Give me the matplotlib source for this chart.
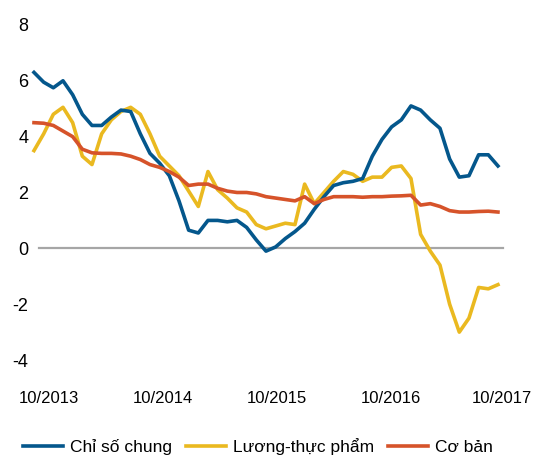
import numpy as np
import matplotlib
matplotlib.use("Agg")
import matplotlib.pyplot as plt

plt.rcParams['font.family'] = ['Liberation Sans', 'DejaVu Sans']

# monthly values, 10/2013 -> 10/2017
chung = [6.3, 5.95, 5.75, 6.0, 5.5, 4.8, 4.4, 4.4, 4.7, 4.95,
         4.9, 4.1, 3.4, 3.05, 2.6, 1.7, 0.65, 0.55, 1.0, 1.0,
         0.95, 1.0, 0.75, 0.3, -0.1, 0.05, 0.35, 0.6, 0.9, 1.4,
         1.85, 2.25, 2.35, 2.4, 2.5, 3.3, 3.9, 4.35, 4.6, 5.1,
         4.95, 4.6, 4.3, 3.2, 2.55, 2.6, 3.35, 3.35, 2.95]
luong_thuc = [3.5, 4.1, 4.8, 5.05, 4.5, 3.3, 3.0, 4.1, 4.6, 4.9,
              5.05, 4.8, 4.1, 3.3, 2.95, 2.6, 2.05, 1.5, 2.75, 2.1,
              1.8, 1.45, 1.3, 0.85, 0.7, 0.8, 0.9, 0.85, 2.3, 1.6,
              2.0, 2.4, 2.75, 2.65, 2.4, 2.55, 2.55, 2.9, 2.95, 2.5,
              0.5, -0.1, -0.6, -2.0, -3.0, -2.5, -1.4, -1.45, -1.3]
co_ban = [4.5, 4.48, 4.4, 4.2, 4.0, 3.55, 3.42, 3.4, 3.4, 3.38,
          3.3, 3.18, 3.0, 2.9, 2.75, 2.55, 2.25, 2.3, 2.3, 2.15,
          2.05, 2.0, 2.0, 1.95, 1.85, 1.8, 1.75, 1.7, 1.85, 1.6,
          1.75, 1.85, 1.85, 1.85, 1.83, 1.85, 1.85, 1.87, 1.88, 1.9,
          1.55, 1.6, 1.5, 1.35, 1.3, 1.3, 1.32, 1.33, 1.3]
xlabels = ['10/2013', '10/2014', '10/2015', '10/2016', '10/2017']
yticks = [-4, -2, 0, 2, 4, 6, 8]

fig = plt.figure(figsize=(5.37, 4.57), dpi=100)
ax = fig.add_axes([0.0453, 0.1816, 0.900, 0.7944])

x = np.arange(len(chung))
ax.axhline(0, xmin=0.03, xmax=0.99, color='#a6a6a6', lw=1.6, zorder=1)
ax.plot(x, chung, color='#04578c', lw=2.6, label='Chỉ số chung', zorder=3,
        solid_joinstyle='round')
ax.plot(x, luong_thuc, color='#eab920', lw=2.6, label='Lương-thực phẩm', zorder=2,
        solid_joinstyle='round')
ax.plot(x, co_ban, color='#d6532a', lw=2.6, label='Cơ bản', zorder=4,
        solid_joinstyle='round')

ax.set_xlim(-1, 49)
ax.set_ylim(-4.5, 8.5)
for s in ax.spines.values():
    s.set_visible(False)

ax.set_yticks(yticks)
ax.set_yticklabels([str(v) for v in yticks])
ax.tick_params(axis='y', length=0, pad=-3, labelsize=13)
ax.set_xticks([1.5, 13.3, 25.1, 36.9, 48.4])
ax.set_xticklabels(xlabels)
ax.tick_params(axis='x', length=0, pad=12, labelsize=12)

fig.legend(loc='lower center', bbox_to_anchor=(0.48, -0.03), ncol=3, frameon=False,
           fontsize=12.5, handlelength=2.3, columnspacing=0.8, handletextpad=0.4)

fig.savefig('out.png', dpi=100)
